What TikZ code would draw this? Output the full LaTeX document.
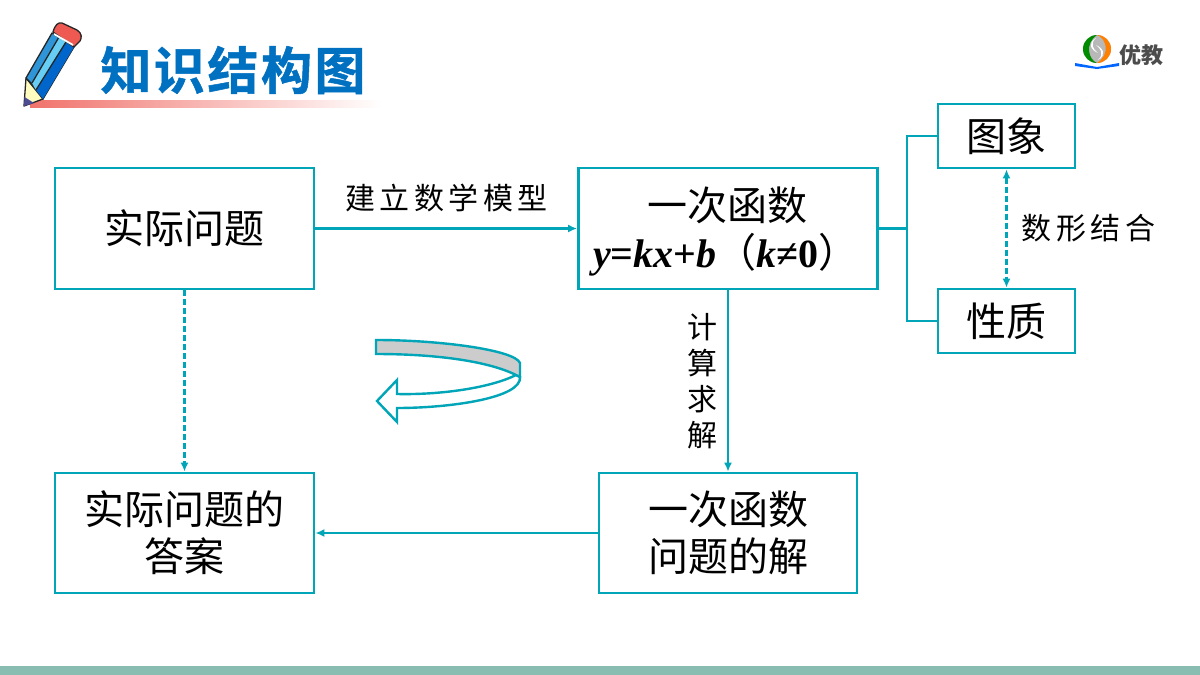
\documentclass[tikz,border=0pt]{standalone}
\usepackage{fontspec}
\setmainfont{Liberation Serif}
\newfontfamily\cjk{Noto Sans CJK SC}
\newfontfamily\cjkspaced[LetterSpace=15]{Noto Sans CJK SC}
\newfontfamily\cjktitle[LetterSpace=5,FakeBold=1]{Noto Sans CJK SC Bold}
\usetikzlibrary{arrows.meta}
\definecolor{teal1}{HTML}{00A5B8}
\definecolor{titleblue}{HTML}{0070C0}
\definecolor{barcol}{HTML}{8ABDB2}
\definecolor{eraser}{HTML}{EE5A52}
\tikzset{
  box/.style={draw=teal1,line width=2.8pt,minimum height=0pt,inner sep=0pt,text=black,align=center,font=\cjk\fontsize{40}{50}\selectfont},
  link/.style={draw=teal1,line width=2.6pt},
  flow/.style={link,-{Latex[length=9pt,width=8pt]}},
  dflow/.style={flow,dash pattern=on 6pt off 3pt},
  both/.style={link,{Latex[length=9pt,width=8pt]}-{Latex[length=9pt,width=8pt]},dash pattern=on 6pt off 3pt},
  lab/.style={inner sep=0pt,text=black,font=\cjkspaced\fontsize{30}{36}\selectfont,align=center},
  ribbon/.style={draw=teal1,line width=2.4pt,line join=miter},
  penline/.style={draw=black!85,line width=1.3pt,line join=round}
}
\newcommand{\boxat}[6][]{\node[box,#1,minimum width=#4pt,minimum height=#5pt] (#2) at (#3) {#6};}
\begin{document}
\begin{tikzpicture}[x=1pt,y=-1pt]
\useasboundingbox (0,0) rectangle (1200,675);
\fill[white] (0,0) rectangle (1200,675);
% bottom bar
\fill[barcol] (0,666) rectangle (1200,675);
% title strip
\shade[left color=eraser!85!white,right color=white] (30,100) rectangle (382,107);
% pencil
\filldraw[fill=yellow!25!white,penline] (26,78) -- (24,106) -- (43,99) -- cycle;
\fill[black!60!blue!70!white] (24.5,97) -- (24,106) -- (34,103) -- cycle;
\filldraw[fill=cyan!70!blue!85!white,penline] (52,33) -- (74,47) -- (43,99) -- (36,88) -- (26,78) -- cycle;
\fill[cyan!60!white] (59,37) -- (66,42) -- (36,90) -- (32,83) -- cycle;
\fill[blue!50!cyan!80!black] (66,42) -- (74,47) -- (43,99) -- (36,90) -- cycle;
\draw[penline] (59,37) -- (32,83) (66,42) -- (36,90);
\filldraw[fill=eraser,penline] (53,32) .. controls (55,25) and (58,22) .. (62,23) -- (77,30) .. controls (82,33) and (82,38) .. (80,41) -- (74,47) -- cycle;
\draw[white,line width=1.8pt] (54,34) -- (73,45);
% title
\node[inner sep=0pt,text=titleblue,font=\cjktitle\fontsize{51}{56}\selectfont,anchor=center] (title) at (233,70) {知识结构图};
% logo
\fill[black!28] (1097,49) circle (14);
\fill[green!55!black] (1097,35) arc (-90:-270:14) .. controls (1089,60) and (1084,44) .. (1097,35) -- cycle;
\fill[orange] (1097,63) arc (90:-90:14) .. controls (1106,38) and (1111,54) .. (1097,63) -- cycle;
\fill[white] (1096,38) .. controls (1089,44) and (1094,50) .. (1098,53) .. controls (1091,50) and (1087,43) .. (1096,38) -- cycle;
\fill[white] (1098,60) .. controls (1105,54) and (1100,48) .. (1096,45) .. controls (1103,48) and (1107,55) .. (1098,60) -- cycle;
\fill[blue!60!cyan] (1075,63) -- (1097,67) -- (1119,63) -- (1119,66) -- (1097,69) -- (1075,66) -- cycle;
\node[inner sep=0pt,text=black!70,font=\cjk\bfseries\fontsize{22}{24}\selectfont] (logo) at (1141,55) {优教};
% boxes
\boxat{real}{184.5,228.5}{259}{121}{实际问题}
\boxat{func}{728,228.5}{299}{121}{}
\boxat{graph}{1006.5,136}{137}{64}{图象}
\boxat{prop}{1006.5,321}{137}{64}{性质}
\boxat{ans}{184.5,533}{259}{120}{实际问题的\\[-3pt]答案}
\boxat{sol}{728,533}{258}{120}{一次函数\\[-3pt]问题的解}
\node[inner sep=0pt,font=\cjk\fontsize{40}{40}\selectfont] (functitle) at (727.5,205) {一次函数};
\node[inner sep=0pt,anchor=west,font=\fontsize{40}{40}\selectfont\bfseries] (funcformula) at (593,255) {\itshape y\upshape =\itshape kx\upshape +\itshape b\upshape{\cjk\mdseries （}\itshape k\upshape ≠0{\cjk\mdseries ）}};
% connectors
\coordinate (fork) at (907,228.5);
\draw[flow] (real) -- node[lab,above=15pt,pos=0.5] (l1) {建立数学模型} (func);
\draw[link] (func.east) -- (fork);
\draw[link] (graph.west) -| (fork) |- (prop.west);
\draw[both] (graph) -- node[lab,right=14pt] (l2) {数形结合} (prop);
\draw[dflow] (real) -- (ans);
\draw[flow] (func) -- node[lab,left=9pt,pos=0.5] (l3) {计\\算\\求\\解} (sol);
\draw[flow] (sol) -- (ans);
% ribbon arrow
\filldraw[fill=white,ribbon] (516,375) .. controls (490,388) and (440,395) .. (397,394) -- (397,380) -- (377,401) -- (397,422) -- (397,408) .. controls (450,408) and (522,398) .. (520,377) -- cycle;
\filldraw[fill=black!20,ribbon] (376,340) .. controls (440,340) and (515,350) .. (520,363) -- (520,377) -- (516,375) .. controls (490,362) and (440,354) .. (376,354) -- cycle;
\end{tikzpicture}
\end{document}
